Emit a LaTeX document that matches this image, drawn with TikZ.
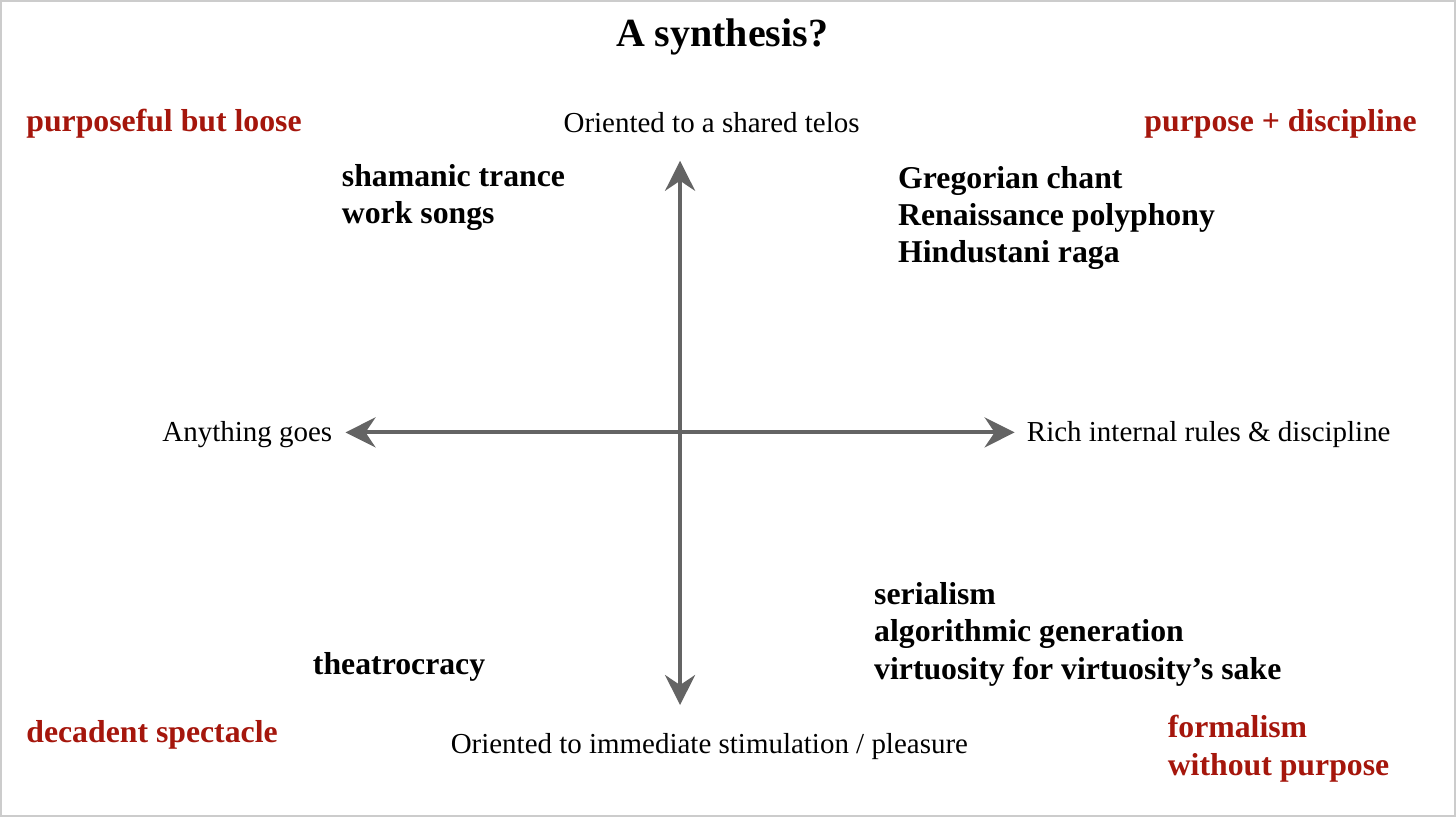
\documentclass[tikz,border=0pt]{standalone}
\usepackage{fontspec}
\setmainfont{Liberation Serif}
\usetikzlibrary{arrows.meta}
\definecolor{redlab}{RGB}{165,22,12}
\definecolor{axisgray}{RGB}{100,100,100}
\begin{document}
\begin{tikzpicture}[x=0.5pt,y=-0.5pt,
  axislab/.style={font=\fontsize{14.5}{17}\selectfont, inner sep=0pt},
  item/.style={font=\bfseries\fontsize{15.9}{18.7}\selectfont, align=left, inner sep=0pt},
  quad/.style={font=\bfseries\fontsize{15.9}{19}\selectfont, text=redlab, align=left, inner sep=0pt},
  axisarrow/.style={draw=axisgray, line width=2pt, {Stealth[length=15pt,width=15pt,inset=5pt]}-{Stealth[length=15pt,width=15pt,inset=5pt]}}
]
\draw[gray!40, line width=1pt, fill=white] (0,0) rectangle (1456,816);
\useasboundingbox (0,0) rectangle (1456,816);
\node[font=\bfseries\fontsize{20}{24}\selectfont, inner sep=0pt] (title) at (722,36) {A synthesis?};
% axes
\coordinate (top) at (680,160);
\coordinate (bot) at (680,705);
\coordinate (lft) at (345,432);
\coordinate (rgt) at (1015,432);
\draw[axisarrow] (bot) -- (top);
\draw[axisarrow] (lft) -- (rgt);
% axis labels
\node[axislab, anchor=west] (ytop) at (563,122) {Oriented to a shared telos};
\node[axislab, anchor=west] (ybot) at (450,747) {Oriented to immediate stimulation / pleasure};
\node[axislab, anchor=east] (xl) at (332,434) {Anything goes};
\node[axislab, anchor=west] (xr) at (1027,434) {Rich internal rules \& discipline};
% quadrant labels
\node[quad, anchor=west] (q1) at (25,123) {purposeful but loose};
\node[quad, anchor=east] (q2) at (1418,123) {purpose + discipline};
\node[quad, anchor=west] (q3) at (25,735) {decadent spectacle};
\node[quad, anchor=north west] (q4) at (1168,715) {formalism\\without purpose};
% items
\node[item, anchor=north west] (i1) at (341,163) {shamanic trance\\work songs};
\node[item, anchor=north west] (i2) at (898,165) {Gregorian chant\\Renaissance polyphony\\Hindustani raga};
\node[item, anchor=north west] (i3) at (874,582) {serialism\\algorithmic generation\\virtuosity for virtuosity’s sake};
\node[item, anchor=west] (i4) at (312,667) {theatrocracy};
\end{tikzpicture}
\end{document}
